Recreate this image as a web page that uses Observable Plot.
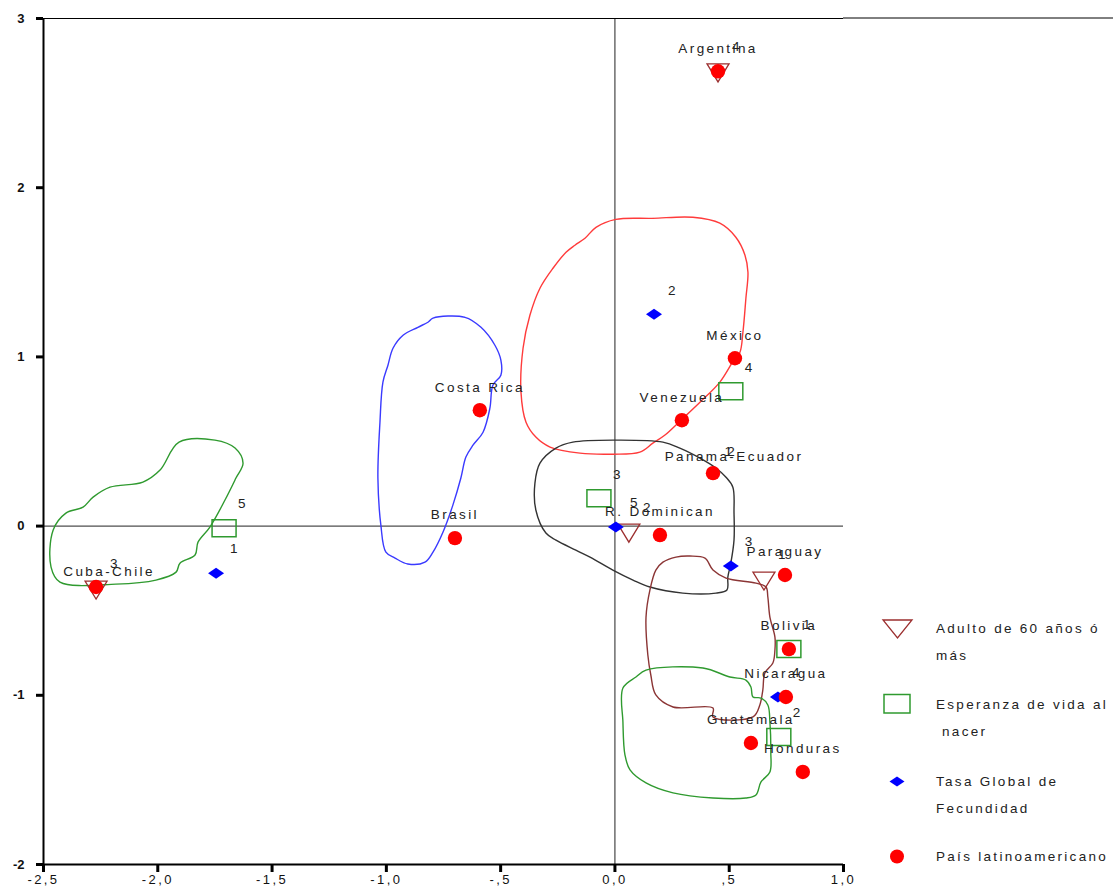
<!DOCTYPE html>
<html><head><meta charset="utf-8">
<script src="https://cdn.jsdelivr.net/npm/d3@7"></script>
<script src="https://cdn.jsdelivr.net/npm/@observablehq/plot@0.6"></script>
<style>
body{margin:0;background:#fff;font-family:"Liberation Sans",Arial,sans-serif;}
#wrap{position:relative;width:1113px;height:890px;}
#wrap svg text{letter-spacing:2.4px;}
#wrap svg text.tick{letter-spacing:0;}
#legend{position:absolute;left:870px;top:600px;width:243px;height:280px;}
</style></head><body><div id="wrap"></div>
<script>
// ---- Data ----
const xTicks = [-2.5, -2, -1.5, -1, -0.5, 0, 0.5, 1];
const xTickLabels = ["-2,5", "-2,0", "-1,5", "-1,0", "-,5", "0,0", ",5", "1,0"];
const yTicks = [3, 2, 1, 0, -1, -2];
const yTickLabels = ["3", "2", "1", "0", "-1", "-2"];

const countries = [
  {name: "Argentina", x: 0.451, y: 2.688},
  {name: "México", x: 0.525, y: 0.992},
  {name: "Costa Rica", x: -0.591, y: 0.685},
  {name: "Venezuela", x: 0.293, y: 0.626},
  {name: "Panama-Ecuador", x: 0.429, y: 0.313},
  {name: "R. Dominican", x: 0.197, y: -0.053},
  {name: "Brasil", x: -0.700, y: -0.071},
  {name: "Cuba-Chile", x: -2.270, y: -0.360},
  {name: "Paraguay", x: 0.744, y: -0.289},
  {name: "Bolivia", x: 0.761, y: -0.727},
  {name: "Nicaragua", x: 0.748, y: -1.010},
  {name: "Guatemala", x: 0.595, y: -1.282},
  {name: "Honduras", x: 0.822, y: -1.453}
];

// Adulto de 60 años ó más
const adulto = [
  {cat: "4", x: 0.451, y: 2.690},
  {cat: "3", x: -2.270, y: -0.366},
  {cat: "2", x: 0.061, y: -0.030},
  {cat: "1", x: 0.652, y: -0.313}
];
// Esperanza de vida al nacer
const esperanza = [
  {cat: "1", x: 0.761, y: -0.727},
  {cat: "2", x: 0.717, y: -1.246},
  {cat: "3", x: -0.070, y: 0.165},
  {cat: "4", x: 0.507, y: 0.797},
  {cat: "5", x: -1.710, y: -0.012}
];
// Tasa Global de Fecundidad
const tasa = [
  {cat: "1", x: -1.745, y: -0.278},
  {cat: "2", x: 0.171, y: 1.252},
  {cat: "3", x: 0.507, y: -0.236},
  {cat: "4", x: 0.713, y: -1.010},
  {cat: "5", x: 0.004, y: -0.006}
];
// overlapping marker labels under Panama-Ecuador
const hiddenLabels = [
  {cat: "1", x: 0.418, y: 0.300},
  {cat: "2", x: 0.430, y: 0.300}
];

// group outlines
const outlineGreenLeft = [[-1.907,0.496],[-1.750,0.508],[-1.662,0.461],[-1.627,0.372],[-1.658,0.284],[-1.706,0.154],[-1.772,-0.006],[-1.824,-0.095],[-1.837,-0.171],[-1.903,-0.219],[-1.920,-0.272],[-2.008,-0.319],[-2.183,-0.343],[-2.428,-0.331],[-2.467,-0.242],[-2.458,-0.024],[-2.402,0.077],[-2.327,0.112],[-2.283,0.171],[-2.209,0.230],[-2.065,0.260],[-1.990,0.331]];
const outlineBlue = [[-0.796,1.229],[-0.656,1.234],[-0.586,1.175],[-0.525,1.069],[-0.499,0.981],[-0.499,0.892],[-0.534,0.833],[-0.547,0.697],[-0.577,0.555],[-0.621,0.478],[-0.652,0.408],[-0.674,0.284],[-0.709,0.124],[-0.752,-0.035],[-0.796,-0.154],[-0.831,-0.213],[-0.906,-0.224],[-0.962,-0.189],[-1.002,-0.154],[-1.024,0.006],[-1.037,0.284],[-1.028,0.614],[-1.015,0.851],[-0.993,0.951],[-0.971,1.051],[-0.927,1.128],[-0.862,1.175],[-0.818,1.205]];
const outlineRed = [[0.004,1.813],[0.166,1.819],[0.341,1.825],[0.459,1.790],[0.529,1.707],[0.569,1.601],[0.582,1.500],[0.573,1.347],[0.560,1.146],[0.547,1.028],[0.525,0.992],[0.459,0.851],[0.372,0.732],[0.289,0.626],[0.219,0.538],[0.166,0.490],[0.109,0.437],[-0.009,0.425],[-0.153,0.431],[-0.284,0.467],[-0.346,0.526],[-0.389,0.614],[-0.411,0.792],[-0.402,1.051],[-0.372,1.246],[-0.328,1.406],[-0.271,1.524],[-0.214,1.618],[-0.175,1.660],[-0.131,1.701],[-0.083,1.766]];
const outlineBlack = [[-0.184,0.496],[0.004,0.508],[0.210,0.496],[0.284,0.461],[0.372,0.402],[0.437,0.348],[0.486,0.289],[0.516,0.230],[0.521,0.077],[0.521,-0.083],[0.507,-0.219],[0.494,-0.301],[0.490,-0.378],[0.442,-0.396],[0.297,-0.396],[0.153,-0.360],[0.079,-0.319],[-0.009,-0.260],[-0.109,-0.183],[-0.171,-0.142],[-0.258,-0.083],[-0.302,-0.041],[-0.346,0.095],[-0.350,0.254],[-0.328,0.372],[-0.258,0.461]];
const outlineBrown = [[0.267,-0.183],[0.328,-0.177],[0.394,-0.189],[0.429,-0.260],[0.486,-0.307],[0.617,-0.337],[0.661,-0.360],[0.669,-0.419],[0.678,-0.538],[0.700,-0.656],[0.700,-0.732],[0.691,-0.809],[0.656,-0.868],[0.647,-0.969],[0.634,-1.057],[0.604,-1.128],[0.429,-1.128],[0.429,-1.075],[0.254,-1.069],[0.179,-0.998],[0.157,-0.880],[0.144,-0.762],[0.136,-0.538],[0.153,-0.378],[0.179,-0.260],[0.210,-0.213]];
const outlineGreenBottom = [[0.136,-0.851],[0.385,-0.839],[0.503,-0.892],[0.573,-0.910],[0.595,-0.951],[0.604,-1.010],[0.639,-1.016],[0.669,-1.057],[0.678,-1.158],[0.682,-1.335],[0.678,-1.453],[0.639,-1.512],[0.617,-1.589],[0.573,-1.607],[0.429,-1.607],[0.254,-1.577],[0.136,-1.518],[0.066,-1.441],[0.044,-1.353],[0.035,-1.158],[0.035,-0.957],[0.092,-0.892]];

const legendItems = ["Adulto de 60 años ó|más", "Esperanza de vida al| nacer", "Tasa Global de|Fecundidad", "País latinoamericano"];

// ---- Styles ----
const cRed = "#ff0000", cBlue = "#0000ff", cGreen = "#2f9a2f", cBrown = "#9c2f2f";
const triSym = {draw(ctx){ ctx.moveTo(-11,-7); ctx.lineTo(11,-7); ctx.lineTo(0,11); ctx.closePath(); }};
const rectSym = {draw(ctx){ ctx.moveTo(-12,-8.5); ctx.lineTo(12,-8.5); ctx.lineTo(12,8.5); ctx.lineTo(-12,8.5); ctx.closePath(); }};
const diaSym = {draw(ctx){ ctx.moveTo(-8,0); ctx.lineTo(0,-5.5); ctx.lineTo(8,0); ctx.lineTo(0,5.5); ctx.closePath(); }};

const xLab = new Map(xTicks.map((t,i)=>[t, xTickLabels[i]]));
const yLab = new Map(yTicks.map((t,i)=>[t, yTickLabels[i]]));
const outline = (data, stroke) => Plot.line(data, {x: d=>d[0], y: d=>d[1], curve: "catmull-rom-closed", stroke, strokeWidth: 1.4});
const txt = {fill: "#222", fontSize: 13.5, fontFamily: "Liberation Sans, Arial, sans-serif"};
const catLabels = (data) => Plot.text(data, {x: "x", y: "y", text: "cat", dx: 19, dy: -24, ...txt});

const plot = Plot.plot({
  width: 1113, height: 890,
  marginLeft: 43, marginRight: 270, marginTop: 18, marginBottom: 26,
  x: {domain: [-2.5, 1], axis: null},
  y: {domain: [-2, 3], axis: null},
  style: {background: "#fff", fontFamily: "Liberation Sans, Arial, sans-serif"},
  marks: [
    Plot.ruleX([0], {stroke: "#222", strokeWidth: 1}),
    Plot.ruleY([0], {stroke: "#222", strokeWidth: 1}),
    outline(outlineGreenLeft, "#2f9a2f"),
    outline(outlineBlue, "#3a3aff"),
    outline(outlineRed, "#ff3b3b"),
    outline(outlineBlack, "#333"),
    outline(outlineBrown, "#8b3535"),
    outline(outlineGreenBottom, "#2f9a2f"),
    Plot.dot(adulto, {x: "x", y: "y", symbol: triSym, r: 10, stroke: cBrown, fill: "none", strokeWidth: 1.3}),
    Plot.dot(esperanza, {x: "x", y: "y", symbol: rectSym, r: 10, stroke: cGreen, fill: "none", strokeWidth: 1.5}),
    Plot.dot(tasa, {x: "x", y: "y", symbol: diaSym, r: 8, fill: cBlue, stroke: "none"}),
    Plot.dot(countries, {x: "x", y: "y", r: 7.2, fill: cRed, stroke: "none"}),
    catLabels(adulto), catLabels(esperanza), catLabels(tasa),
    Plot.text(hiddenLabels, {x: "x", y: "y", text: "cat", dx: 19, dy: -24, ...txt}),
    Plot.text(countries.filter(d => d.name !== "Cuba-Chile" && d.name !== "Panama-Ecuador"), {x: "x", y: "y", text: "name", dy: -23, ...txt}),
    Plot.text(countries.filter(d => d.name === "Cuba-Chile"), {x: "x", y: "y", text: "name", dx: 13, dy: -15, ...txt}),
    Plot.text(countries.filter(d => d.name === "Panama-Ecuador"), {x: "x", y: "y", text: "name", dx: 21, dy: -16, ...txt}),
    Plot.ruleX([-2.5], {stroke: "#000", strokeWidth: 2}),
    Plot.ruleY([-2], {stroke: "#000", strokeWidth: 2}),
    Plot.ruleY([3], {stroke: "#000", strokeWidth: 1}),
    Plot.axisX(xTicks, {anchor: "bottom", tickFormat: () => "", tickSize: 8, strokeWidth: 3, label: null}),
    Plot.axisY(yTicks, {anchor: "left", tickFormat: () => "", tickSize: 7, strokeWidth: 3, label: null}),
    Plot.text(xTicks, {x: d => d, frameAnchor: "bottom", dy: 19, text: d => xLab.get(d), fontSize: 13, fill: "#111", className: "tick"}),
    Plot.text(yTicks, {y: d => d, frameAnchor: "left", dx: -19, textAnchor: "end", text: d => yLab.get(d), fontSize: 13, fontWeight: "bold", fill: "#111"})
  ]
});
const wrap = document.getElementById("wrap");
wrap.appendChild(plot);
// tick labels: no extra tracking
d3.select(plot).selectAll("text").filter(function(){ return /^-?[0-9]?,?[0-9]$/.test(this.textContent) && (+this.getAttribute("y") > 870 || this.getAttribute("text-anchor") === "end" || this.parentNode.getAttribute("text-anchor") === "end"); }).style("letter-spacing", "0px");

// extend top border across to the right edge
const yTop = plot.scale("y").apply(3);
d3.select(plot).append("line").attr("x1", plot.scale("x").apply(1)).attr("x2", 1113)
  .attr("y1", yTop).attr("y2", yTop).attr("stroke", "#000").attr("stroke-width", 1);

// legend
const lg = d3.select(wrap).append("svg").attr("id", "legend").attr("width", 243).attr("height", 280);
const rowsY = [28, 104, 181, 256];
const symG = lg.append("g");
symG.append("path").attr("d", "M13,20 L42,20 L27.5,38 Z").attr("fill", "none").attr("stroke", cBrown).attr("stroke-width", 1.3);
symG.append("rect").attr("x", 14).attr("y", 94.5).attr("width", 26).attr("height", 18.5).attr("fill", "none").attr("stroke", cGreen).attr("stroke-width", 1.5);
symG.append("path").attr("d", "M19.5,181.5 L27,176.5 L34.5,181.5 L27,186.5 Z").attr("fill", cBlue);
symG.append("circle").attr("cx", 27).attr("cy", 256.5).attr("r", 7).attr("fill", cRed);
legendItems.forEach((t, i) => {
  const lines = t.split("|");
  lines.forEach((ln, j) => {
    lg.append("text").attr("x", 66).attr("y", rowsY[i] + j * 27).attr("dy", "0.35em")
      .attr("font-size", 13.5).attr("fill", "#222").attr("xml:space", "preserve")
      .style("white-space", "pre").style("letter-spacing", "2.3px")
      .attr("font-family", "Liberation Sans, Arial, sans-serif").text(ln);
  });
});
</script></body></html>
